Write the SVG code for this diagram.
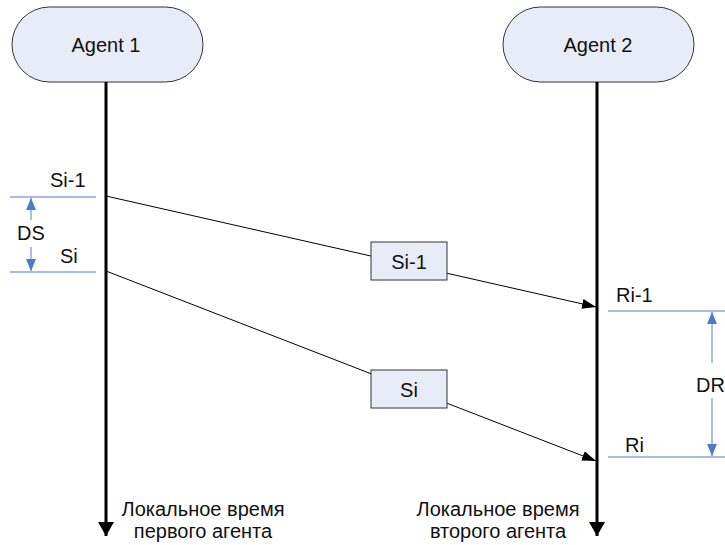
<svg xmlns="http://www.w3.org/2000/svg" width="725" height="545" viewBox="0 0 725 545">
<defs>
<style>
text{font-family:"Liberation Sans",Arial,sans-serif;font-size:20px;fill:#111}
.agent{fill:#E8ECF7;stroke:#333;stroke-width:1}
.life{stroke:#000;stroke-width:3;fill:none}
.msg{stroke:#000;stroke-width:1;fill:none}
.box{fill:#E8ECF7;stroke:#333;stroke-width:1}
.dim{stroke:#4A7CC7;stroke-width:1}
.dimv{stroke:#8EAADB;stroke-width:1.5}
</style>
<marker id="ah" viewBox="0 0 14 10" refX="14" refY="5" markerWidth="14" markerHeight="10" markerUnits="userSpaceOnUse" orient="auto"><path d="M0,0 L14,5 L0,10 Z" fill="#000"/></marker>
<marker id="lh" viewBox="0 0 14 16" refX="14" refY="8" markerWidth="16" markerHeight="16" markerUnits="userSpaceOnUse" orient="auto"><path d="M0,0 L14,8 L0,16 Z" fill="#000"/></marker>
<marker id="bh" viewBox="0 0 12 10" refX="12" refY="5" markerWidth="12" markerHeight="10" markerUnits="userSpaceOnUse" orient="auto"><path d="M0,0 L12,5 L0,10 Z" fill="#4A7CC7"/></marker>
</defs>
<g id="agent1"><rect class="agent" x="12" y="7" width="191" height="75" rx="37.5"/><text x="106" y="52" text-anchor="middle">Agent 1</text></g>
<g id="agent2"><rect class="agent" x="503" y="7" width="191" height="75" rx="37.5"/><text x="598" y="52" text-anchor="middle">Agent 2</text></g>
<g id="connectors">
<line class="life" x1="106" y1="82" x2="106" y2="536" marker-end="url(#lh)"/>
<line class="life" x1="597" y1="82" x2="597" y2="536" marker-end="url(#lh)"/>
<line class="msg" x1="106" y1="196" x2="596" y2="307" marker-end="url(#ah)"/>
<line class="msg" x1="106" y1="271" x2="596" y2="461" marker-end="url(#ah)"/>
</g>
<g id="box-si-1"><rect class="box" x="371" y="242" width="76" height="38"/><text x="409" y="269" text-anchor="middle">Si-1</text></g>
<g id="box-si"><rect class="box" x="371" y="370" width="76" height="38"/><text x="409" y="397" text-anchor="middle">Si</text></g>
<g id="ds">
<line class="dim" x1="10" y1="197" x2="96" y2="197"/>
<line class="dim" x1="10" y1="272" x2="96" y2="272"/>
<line class="dimv" x1="31" y1="220" x2="31" y2="198" marker-end="url(#bh)"/>
<line class="dimv" x1="31" y1="247" x2="31" y2="271" marker-end="url(#bh)"/>
<text x="31" y="240" text-anchor="middle">DS</text>
<text x="50" y="187">Si-1</text>
<text x="60" y="263">Si</text>
</g>
<g id="dr">
<line class="dim" x1="608" y1="311" x2="725" y2="311"/>
<line class="dim" x1="608" y1="457" x2="725" y2="457"/>
<line class="dimv" x1="712" y1="363" x2="712" y2="312" marker-end="url(#bh)"/>
<line class="dimv" x1="712" y1="398" x2="712" y2="456" marker-end="url(#bh)"/>
<text x="696" y="392">DR</text>
<text x="616" y="302">Ri-1</text>
<text x="625" y="452">Ri</text>
</g>
<g id="labels">
<text x="203" y="516" text-anchor="middle">Локальное время</text>
<text x="203" y="538" text-anchor="middle">первого агента</text>
<text x="498" y="516" text-anchor="middle">Локальное время</text>
<text x="498" y="538" text-anchor="middle">второго агента</text>
</g>
</svg>
